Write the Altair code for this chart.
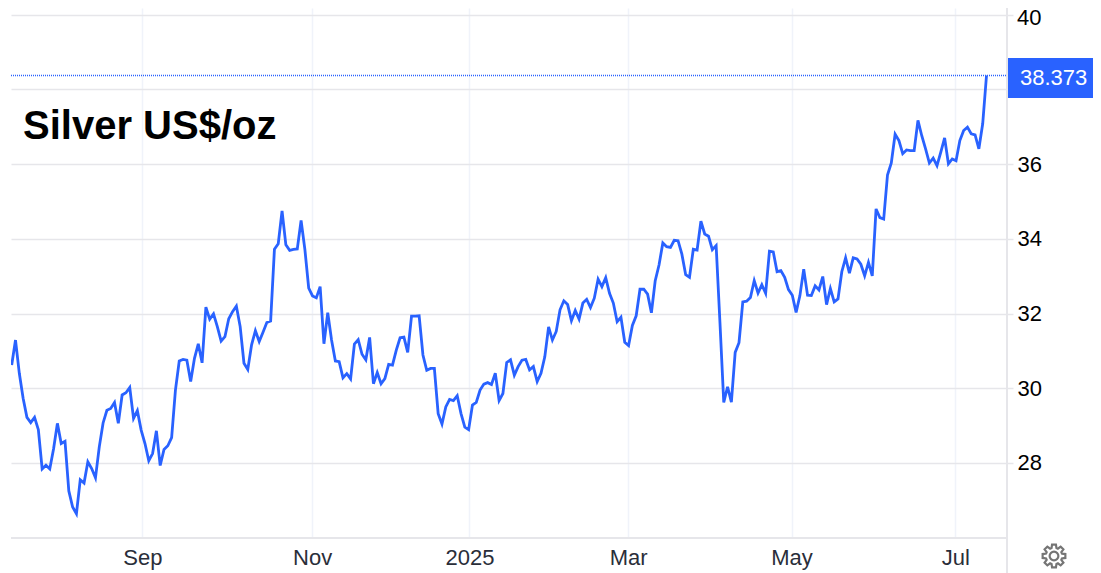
import math
import altair as alt
import pandas as pd

# Daily closes, left to right (one value per trading day)
silver_values = [
    30.62, 31.29, 30.40, 29.73, 29.22, 29.08, 29.22, 28.89, 27.84, 27.94, 27.84, 28.38,
    29.06, 28.52, 28.58, 27.25, 26.82, 26.64, 27.55, 27.46, 28.03, 27.85, 27.60, 28.43,
    29.07, 29.41, 29.46, 29.62, 29.06, 29.82, 29.88, 30.02, 29.19, 29.40, 28.88, 28.52,
    28.06, 28.25, 28.86, 27.93, 28.36, 28.46, 28.68, 29.95, 30.73, 30.77, 30.75, 30.18,
    30.80, 31.19, 30.68, 32.17, 31.85, 31.99, 31.65, 31.26, 31.38, 31.86, 32.05, 32.20,
    31.65, 30.67, 30.50, 31.16, 31.54, 31.25, 31.50, 31.76, 31.80, 33.72, 33.87, 34.75,
    33.84, 33.69, 33.72, 33.73, 34.49, 33.71, 32.68, 32.47, 32.42, 32.72, 31.19, 32.02,
    31.29, 30.73, 30.71,
    30.28, 30.39, 30.25, 31.18, 31.30, 30.91, 30.76, 31.36, 30.12, 30.42, 30.12, 30.26,
    30.64, 30.62, 31.02, 31.35, 31.37, 30.96, 31.93, 31.93, 31.94, 30.89, 30.48, 30.53,
    30.53, 29.32, 29.04, 29.50, 29.70, 29.67, 29.80, 29.32, 28.96, 28.89, 29.55, 29.62,
    29.95, 30.11, 30.15, 30.10, 30.40, 29.67, 29.86, 30.69, 30.76, 30.35, 30.58, 30.75,
    30.77, 30.49, 30.58, 30.18, 30.40, 30.84, 31.64, 31.29, 31.52, 32.10, 32.34, 32.24,
    31.81, 32.08, 31.85, 32.28, 32.38, 32.16, 32.41, 32.92, 32.72, 32.96, 32.54, 32.28,
    31.78, 31.90, 31.23, 31.14, 31.68, 31.94, 32.65, 32.65, 32.52, 32.02, 32.88, 33.30,
    33.89, 33.79, 33.77,
    33.96, 33.95, 33.59, 33.04, 32.97, 33.72, 33.70, 34.47, 34.13, 34.07, 33.71, 33.82,
    31.76, 29.62, 30.04, 29.63, 30.96, 31.22, 32.31, 32.33, 32.43, 32.88, 32.55, 32.77,
    32.54, 33.67, 33.65, 33.12, 33.15, 32.97, 32.64, 32.49, 32.03, 32.48, 33.19, 32.49,
    32.48, 32.74, 32.63, 32.99, 32.24, 32.67, 32.31, 32.39, 33.12, 33.49, 33.08, 33.49,
    33.46, 33.32, 33.01, 33.37, 33.01, 34.80, 34.57, 34.53, 35.71, 36.03, 36.80, 36.63,
    36.28, 36.38, 36.36, 36.36, 37.17, 36.76, 36.41, 36.03, 36.16, 35.96, 36.32, 36.70,
    36.01, 36.14, 36.09, 36.63, 36.90, 36.99, 36.81, 36.78, 36.41, 37.08, 38.373,
]
day_index = list(range(len(silver_values)))
last_value = 38.373
last_label = "38.373"
title_text = "Silver US$/oz"
x_tick_pos = [34.3, 78.9, 120.2, 161.9, 204.8, 247.8]
x_tick_labels = ["Sep", "Nov", "2025", "Mar", "May", "Jul"]
y_ticks = [28, 30, 32, 34, 36, 38, 40]
top_tick_label = "40"

BLUE = "#2962ff"
FONT = "Liberation Sans"
W, H = 996, 530

df = pd.DataFrame({"day": day_index, "price": silver_values})

step = 974.8 / (len(silver_values) - 1)
x_scale = alt.Scale(domain=[-0.7 / step, (W - 0.7) / step], nice=False, zero=False)
y_scale = alt.Scale(domain=[25.99, 40.18], nice=False, zero=False)

label_expr = "%s[indexof(%s, datum.value)]" % (
    str(x_tick_labels), str(x_tick_pos))

line = alt.Chart(df).mark_line(color=BLUE, strokeWidth=2.8, clip=True).encode(
    x=alt.X("day:Q", scale=x_scale, axis=alt.Axis(
        title=None, values=x_tick_pos, labelExpr=label_expr, orient="bottom",
        grid=True, gridColor="#f0f3fa", gridWidth=1.5, domain=False, ticks=False,
        labelFont=FONT, labelFontSize=22, labelColor="#2a2e39", labelPadding=9,
        labelFlush=False, labelOverlap=False)),
    y=alt.Y("price:Q", scale=y_scale, axis=alt.Axis(
        title=None, values=y_ticks, orient="right",
        labelExpr="datum.value >= 38 ? '' : format(datum.value, 'd')",
        grid=True, gridColor="#e6e6ea", gridWidth=1.5, domain=False,
        tickColor="#e6e6ea", tickSize=6, tickWidth=1.5,
        labelFont=FONT, labelFontSize=22, labelColor="#000000", labelPadding=4,
        labelOverlap=False, labelFlush=False)),
)

one = pd.DataFrame({"v": [last_value]})

dotted = alt.Chart(one).mark_rule(color=BLUE, strokeWidth=1.5, strokeDash=[1, 1]).encode(
    y=alt.Y("v:Q", scale=y_scale, title=None), x=alt.value(0), x2=alt.value(W))

x_line = alt.Chart(one).mark_rule(color="#e6e6ea", strokeWidth=2).encode(
    x=alt.value(0), x2=alt.value(W), y=alt.value(H))
y_line = alt.Chart(one).mark_rule(color="#e6e6ea", strokeWidth=2).encode(
    x=alt.value(W), y=alt.value(0), y2=alt.value(565))

badge = alt.Chart(one).mark_rect(color=BLUE).encode(
    x=alt.value(997), x2=alt.value(1082), y=alt.value(50), y2=alt.value(90))
badge_text = alt.Chart(one).mark_text(
    text=last_label, color="#ffffff", font=FONT, fontSize=22, align="left", baseline="middle"
).encode(x=alt.value(1009), y=alt.value(70))

# the top tick label sits right at the page margin, so it is set just inside it
top_label = alt.Chart(one).mark_text(
    text=top_tick_label, color="#000000", font=FONT, fontSize=22, align="left", baseline="top"
).encode(x=alt.value(1006), y=alt.value(0))

title = alt.Chart(one).mark_text(
    text=title_text, color="#000000", font=FONT, fontSize=40, fontWeight="bold",
    align="left", baseline="alphabetic"
).encode(x=alt.value(12), y=alt.value(131))

# settings gear
teeth = 8
pts = []
for i in range(teeth):
    a = 2 * math.pi * i / teeth
    for da, r in [(-0.30, 0.72), (-0.17, 1.0), (0.17, 1.0), (0.30, 0.72)]:
        pts.append((r * math.cos(a + da), r * math.sin(a + da)))
gear_path = "M" + "L".join("%.3f,%.3f" % p for p in pts) + "Z"
hole = "M0.38,0A0.38,0.38 0 1,1 -0.38,0A0.38,0.38 0 1,1 0.38,0Z"
gear = alt.Chart(one).mark_point(
    shape=gear_path + hole, filled=False, color="#757575", strokeWidth=2.2, size=530, opacity=1
).encode(x=alt.value(1043), y=alt.value(548))

chart = alt.layer(line, x_line, y_line, dotted, badge, badge_text, top_label, title, gear).resolve_scale(
    x="shared", y="shared"
).properties(
    width=W, height=H,
    padding={"left": 3, "top": 0, "right": 86, "bottom": 35},
    autosize=alt.AutoSizeParams(type="none"),
    background="#ffffff",
).configure_view(stroke=None)

chart.save("out.html", embed_options={"renderer": "svg", "actions": False})
